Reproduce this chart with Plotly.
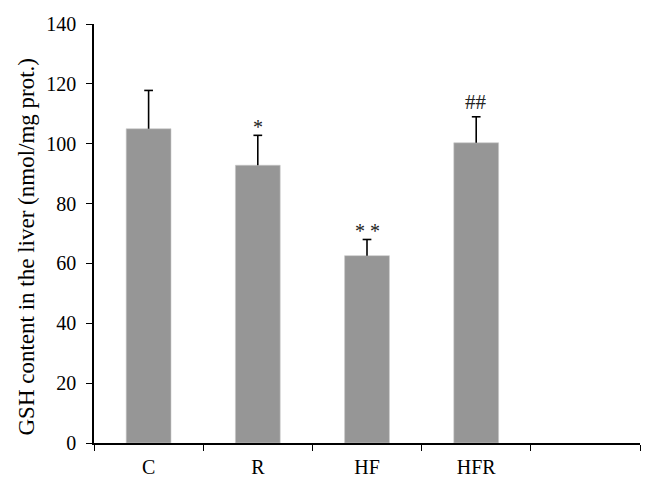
import plotly.graph_objects as go

categories = ["C", "R", "HF", "HFR"]
all_categories = ["C", "R", "HF", "HFR", " "]
values = [105.0, 92.8, 62.6, 100.3]
errors = [12.8, 10.0, 5.4, 8.7]
marks = ["", "*", "* *", "##"]
y_ticks = [0, 20, 40, 60, 80, 100, 120, 140]
y_title = "GSH content in the liver (nmol/mg prot.)"

FONT = "Liberation Serif"
CAP = 0.04  # half cap width in category units

fig = go.Figure()
fig.add_trace(go.Bar(
    x=categories, y=values, width=0.41,
    marker=dict(color="#969696", line=dict(color="#c8c8c8", width=0.6)),
    showlegend=False, xaxis="x", yaxis="y",
))

# error bars (upper only) drawn on a numeric overlay axis aligned with the category positions
ex, ey = [], []
for i, (v, e) in enumerate(zip(values, errors)):
    ex += [i, i, None, i - CAP, i + CAP, None]
    ey += [v, v + e, None, v + e, v + e, None]
fig.add_trace(go.Scatter(
    x=ex, y=ey, mode="lines", line=dict(color="black", width=1.6),
    showlegend=False, xaxis="x2", yaxis="y", hoverinfo="skip",
))

for i, (v, e, m) in enumerate(zip(values, errors, marks)):
    if m:
        star = "*" in m
        fig.add_annotation(x=i, y=v + e, xref="x2", yref="y", text=m, showarrow=False,
                           yanchor="bottom", yshift=-5 if star else 1,
                           font=dict(family=FONT, size=20 if star else 21, color="#222"))

fig.add_annotation(x=0, y=0.5, xref="paper", yref="paper", text=y_title, textangle=-90,
                   showarrow=False, xanchor="center", yanchor="middle",
                   xshift=-68, yshift=-13, font=dict(family=FONT, size=23, color="black"))

fig.update_layout(
    width=653, height=486,
    margin=dict(l=86, r=21, t=16, b=51),
    paper_bgcolor="white", plot_bgcolor="white",
    font=dict(family=FONT, size=20, color="black"),
    xaxis=dict(
        type="category", categoryorder="array", categoryarray=all_categories,
        range=[-0.5, 4.5], tickson="boundaries", ticks="outside", ticklen=6,
        tickwidth=1.3, tickcolor="black", showline=True, linecolor="black", linewidth=1.6,
        showgrid=False, zeroline=False, tickfont=dict(family=FONT, size=20),
        ticklabelstandoff=5, automargin=False,
    ),
    xaxis2=dict(
        overlaying="x", range=[-0.5, 4.5], visible=False, showgrid=False, zeroline=False,
        automargin=False,
    ),
    yaxis=dict(
        range=[0, 140], tickvals=y_ticks, ticks="outside", ticklen=6, tickwidth=1.3,
        tickcolor="black", showline=True, linecolor="black", linewidth=1.6,
        showgrid=False, zeroline=False, tickfont=dict(family=FONT, size=20),
        ticklabelstandoff=6, automargin=False,
    ),
)

fig.write_html("out.html")
